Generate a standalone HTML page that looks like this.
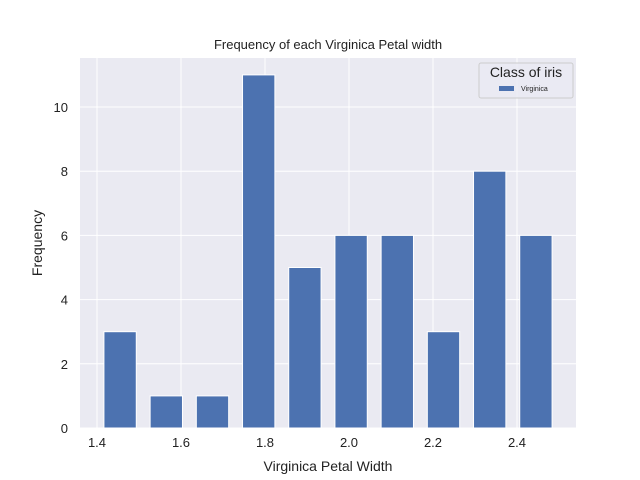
<!DOCTYPE html>
<html><head><meta charset="utf-8"><style>body{margin:0;background:#fff}svg{display:block;font-family:"Liberation Sans","DejaVu Sans",sans-serif}</style></head>
<body>
<svg id="chart" width="640" height="480">
<rect x="80" y="58" width="496" height="370" fill="#eaeaf2"/>
<g id="grid"></g><g id="bars"></g><g id="ticks"></g>
<text x="328" y="49" text-anchor="middle" font-size="13" fill="#222">Frequency of each Virginica Petal width</text>
<text x="328" y="471" text-anchor="middle" font-size="14" fill="#222">Virginica Petal Width</text>
<text transform="translate(42,243) rotate(-90)" text-anchor="middle" font-size="14" fill="#222">Frequency</text>
<g>
<rect x="479" y="63" width="94" height="35" rx="2" fill="#eaeaf2" fill-opacity="0.8" stroke="#ccc"/>
<text x="526" y="77" text-anchor="middle" font-size="14" fill="#222">Class of iris</text>
<rect x="499" y="86" width="15" height="5" fill="#4c72b0"/>
<text x="521" y="91" font-size="7" fill="#222">Virginica</text>
</g>
</svg>
<script>
const binStart=1.4, binWidth=0.11;
const counts=[3,1,1,11,5,6,6,3,8,6];
const xTicks=[1.4,1.6,1.8,2.0,2.2,2.4];
const yTicks=[0,2,4,6,8,10];
const NS="http://www.w3.org/2000/svg";
const xs=v=>97+(v-1.4)*420;
const ys=v=>428-v*32.1;
function mk(t,a,p){const e=document.createElementNS(NS,t);for(const k in a)e.setAttribute(k,a[k]);p.appendChild(e);return e;}
const grid=document.getElementById('grid'),bars=document.getElementById('bars'),ticks=document.getElementById('ticks');
xTicks.forEach(v=>{
const l=mk('line',{x1:xs(v),x2:xs(v),y1:58,y2:428,stroke:'#fff','stroke-width':1},grid);


const t=mk('text',{x:xs(v),y:447,'text-anchor':'middle','font-size':13,fill:'#222'},ticks);
t.textContent=v.toFixed(1);


});
yTicks.forEach(v=>{
const l=mk('line',{x1:80,x2:576,y1:ys(v),y2:ys(v),stroke:'#fff','stroke-width':1},grid);


const t=mk('text',{x:68,y:ys(v)+5,'text-anchor':'end','font-size':13,fill:'#222'},ticks);
t.textContent=v;


});
counts.forEach((c,i)=>{
const c0=binStart+binWidth*(i+0.5);
const w=binWidth*0.7*420;
const r=mk('rect',{x:xs(c0)-w/2,y:ys(c),width:w,height:ys(0)-ys(c),fill:'#4c72b0',stroke:'#fff','stroke-width':1},bars);


});
</script>
</body></html>
